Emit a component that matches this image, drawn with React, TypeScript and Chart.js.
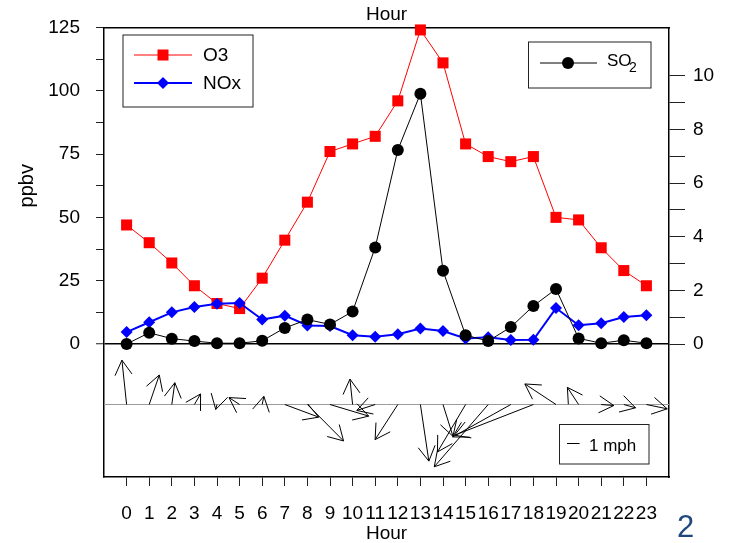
import React, { useEffect, useRef } from 'react';
import { Chart, registerables } from 'chart.js';

Chart.register(...registerables);

const FONT = "'Liberation Sans', Arial, Helvetica, sans-serif";

// ---- data ----
const HOURS = [0, 1, 2, 3, 4, 5, 6, 7, 8, 9, 10, 11, 12, 13, 14, 15, 16, 17, 18, 19, 20, 21, 22, 23];
const HOUR_LABELS = ['0', '1', '2', '3', '4', '5', '6', '7', '8', '9', '10', '11', '12', '13', '14', '15', '16', '17', '18', '19', '20', '21', '22', '23'];
const O3 = [47, 40, 32, 23, 16, 14, 26, 41, 56, 76, 79, 82, 96, 124, 111, 79, 74, 72, 74, 50, 49, 38, 29, 23];
const NOX = [4.7, 8.6, 12.5, 14.6, 15.9, 16.2, 9.7, 11.2, 7.3, 7.1, 3.5, 2.9, 3.9, 6.1, 5.1, 2.2, 2.7, 1.6, 1.7, 14.2, 7.4, 8.2, 10.7, 11.4];
const SO2 = [0, 0.42, 0.2, 0.11, 0.03, 0.03, 0.12, 0.6, 0.91, 0.73, 1.21, 3.6, 7.23, 9.33, 2.73, 0.33, 0.11, 0.63, 1.42, 2.05, 0.21, 0.03, 0.14, 0.03];
// wind components (mph): east (u) and north (v)
const WIND_U = [-0.37, 0.8, 0.24, 0.49, -0.1, -0.84, 0.13, 2.69, 2.87, 3.07, -0.21, -1.46, -1.8, 0.67, 0.79, -2.23, -4.28, -4.61, -6.26, -2.47, -0.89, 1.0, 0.93, 1.65];
const WIND_V = [3.52, 2.34, 1.73, 0.84, -0.39, 0.55, 0.65, -1.0, -2.89, -0.92, 2.02, -0.47, -2.78, -4.49, -2.52, -3.76, -4.94, -2.57, -2.44, 1.63, 1.36, -0.08, -0.26, -0.34];

const LEFT_TICKS = [0, 12.5, 25, 37.5, 50, 62.5, 75, 87.5, 100, 112.5, 125];
const LEFT_LABELS = ['0', '', '25', '', '50', '', '75', '', '100', '', '125'];
const RIGHT_TICKS = [0, 1, 2, 3, 4, 5, 6, 7, 8, 9, 10];
const RIGHT_LABELS = ['0', '', '2', '', '4', '', '6', '', '8', '', '10'];

const annotatePlugin = {
  id: 'annotate',
  beforeDatasetsDraw(chart: any) {
    const { ctx, chartArea, scales } = chart;
    const y0 = scales.yw.getPixelForValue(0);
    ctx.save();
    ctx.strokeStyle = '#9a9a9a';
    ctx.lineWidth = 1;
    ctx.beginPath();
    ctx.moveTo(chartArea.left, y0);
    ctx.lineTo(chartArea.right, y0);
    ctx.stroke();
    ctx.restore();
  },
  afterDatasetsDraw(chart: any) {
    const { ctx, scales } = chart;
    const xs = scales.x;
    const yw = scales.yw;
    const y0 = yw.getPixelForValue(0);
    const k = Math.abs(yw.getPixelForValue(1) - yw.getPixelForValue(0));
    const head = 17;
    const ang = Math.PI / 6;
    ctx.save();
    ctx.strokeStyle = '#000';
    ctx.lineWidth = 1;
    HOURS.forEach((h, i) => {
      const x0 = xs.getPixelForValue(h);
      const x1 = x0 + WIND_U[i] * k;
      const y1 = y0 - WIND_V[i] * k;
      const a = Math.atan2(y1 - y0, x1 - x0);
      ctx.beginPath();
      ctx.moveTo(x0, y0);
      ctx.lineTo(x1, y1);
      ctx.moveTo(x1 + head * Math.cos(a + Math.PI - ang), y1 + head * Math.sin(a + Math.PI - ang));
      ctx.lineTo(x1, y1);
      ctx.lineTo(x1 + head * Math.cos(a + Math.PI + ang), y1 + head * Math.sin(a + Math.PI + ang));
      ctx.stroke();
    });
    ctx.restore();
  },
  afterDraw(chart: any) {
    const { ctx, scales } = chart;
    ctx.save();
    // y title
    const yMid = (scales.y.getPixelForValue(0) + scales.y.getPixelForValue(125)) / 2;
    ctx.fillStyle = '#000';
    ctx.font = `20px ${FONT}`;
    ctx.translate(27, yMid);
    ctx.rotate(-Math.PI / 2);
    ctx.textAlign = 'center';
    ctx.textBaseline = 'middle';
    ctx.fillText('ppbv', 0, 0);
    ctx.restore();

    ctx.save();
    ctx.lineWidth = 1;
    ctx.strokeStyle = '#222';
    // legend 1
    ctx.strokeRect(123, 35, 130, 72);
    ctx.strokeStyle = '#ff0000';
    ctx.beginPath(); ctx.moveTo(134, 55); ctx.lineTo(192, 55); ctx.stroke();
    ctx.fillStyle = '#ff0000';
    ctx.fillRect(163 - 5.5, 55 - 5.5, 11, 11);
    ctx.strokeStyle = '#0000ff';
    ctx.lineWidth = 2;
    ctx.beginPath(); ctx.moveTo(134, 83); ctx.lineTo(192, 83); ctx.stroke();
    ctx.fillStyle = '#0000ff';
    ctx.beginPath();
    ctx.moveTo(163, 83 - 6); ctx.lineTo(169, 83); ctx.lineTo(163, 83 + 6); ctx.lineTo(157, 83); ctx.closePath(); ctx.fill();
    ctx.fillStyle = '#000';
    ctx.font = `19px ${FONT}`;
    ctx.textAlign = 'left';
    ctx.textBaseline = 'middle';
    ctx.fillText('O3', 203, 56);
    ctx.fillText('NOx', 203, 84);

    // legend 2
    ctx.lineWidth = 1;
    ctx.strokeStyle = '#222';
    ctx.strokeRect(528.5, 42, 122.5, 46);
    ctx.strokeStyle = '#000';
    ctx.beginPath(); ctx.moveTo(540, 63); ctx.lineTo(597, 63); ctx.stroke();
    ctx.beginPath(); ctx.arc(568, 63, 6, 0, Math.PI * 2); ctx.fill();
    ctx.textBaseline = 'alphabetic';
    ctx.font = `17px ${FONT}`;
    ctx.fillText('SO', 607, 66);
    ctx.font = `14px ${FONT}`;
    ctx.fillText('2', 629, 72);

    // legend 3 (1 mph)
    const yw = scales.yw;
    const k = Math.abs(yw.getPixelForValue(1) - yw.getPixelForValue(0));
    ctx.strokeStyle = '#222';
    ctx.strokeRect(559.5, 424.5, 89.5, 39.5);
    ctx.strokeStyle = '#000';
    ctx.beginPath(); ctx.moveTo(567, 443.5); ctx.lineTo(567 + k, 443.5); ctx.stroke();
    ctx.font = `17px ${FONT}`;
    ctx.fillText('1 mph', 589, 450.5);

    // slide number
    ctx.fillStyle = '#1F497D';
    ctx.font = `31px ${FONT}`;
    ctx.fillText('2', 677, 537);
    ctx.restore();
  },
};

export default function App() {
  const ref = useRef<HTMLCanvasElement | null>(null);
  useEffect(() => {
    if (!ref.current) return;
    Chart.defaults.font.family = FONT;
    Chart.defaults.color = '#000';
    const pts = (arr: number[]) => HOURS.map((h, i) => ({ x: h, y: arr[i] }));
    const chart = new Chart(ref.current, {
      type: 'line',
      data: {
        datasets: [
          {
            label: 'SO2', data: pts(SO2), xAxisID: 'x', yAxisID: 'y2',
            borderColor: '#000', backgroundColor: '#000', borderWidth: 1,
            pointStyle: 'circle', pointRadius: 6, pointBorderWidth: 0, order: 0, clip: false,
          } as any,
          {
            label: 'NOx', data: pts(NOX), xAxisID: 'x', yAxisID: 'y',
            borderColor: '#0000ff', backgroundColor: '#0000ff', borderWidth: 2,
            pointStyle: 'rectRot', pointRadius: 6, pointBorderWidth: 0, order: 1, clip: false,
          } as any,
          {
            label: 'O3', data: pts(O3), xAxisID: 'x', yAxisID: 'y',
            borderColor: '#ff0000', backgroundColor: '#ff0000', borderWidth: 1,
            pointStyle: 'rect', pointRadius: 7.8, pointBorderWidth: 0, order: 2, clip: false,
          } as any,
        ],
      },
      options: {
        responsive: false,
        maintainAspectRatio: false,
        animation: false,
        layout: { padding: 0 },
        plugins: { legend: { display: false }, tooltip: { enabled: false } },
        scales: {
          x: {
            type: 'linear', position: 'bottom', min: -1, max: 24,
            afterBuildTicks: (s: any) => { s.ticks = HOURS.map((h) => ({ value: h })); },
            afterFit: (s: any) => { s.height = 66; },
            ticks: {
              autoSkip: false, maxRotation: 0, minRotation: 0, padding: 16, color: '#000',
              font: { size: 19, family: FONT },
              callback: (v: any) => { const i = HOURS.indexOf(Number(v)); return i >= 0 ? HOUR_LABELS[i] : ''; },
            },
            grid: { drawOnChartArea: false, tickLength: 9, color: '#222', tickColor: '#222' },
            border: { display: true, color: '#000', width: 1.5 },
            title: { display: true, text: 'Hour', color: '#000', font: { size: 19, family: FONT }, padding: { top: 0, bottom: -2 } },
          },
          xTop: {
            type: 'linear', position: 'top', min: -1, max: 24,
            afterFit: (s: any) => { s.height = 24; },
            ticks: { display: false },
            grid: { display: true, drawOnChartArea: false, drawTicks: false },
            border: { display: true, color: '#000', width: 1.5 },
            title: { display: true, text: 'Hour', color: '#000', font: { size: 19, family: FONT }, padding: { top: 0, bottom: 0 } },
          },
          y: {
            type: 'linear', position: 'left', min: -52.5, max: 125,
            afterBuildTicks: (s: any) => { s.ticks = LEFT_TICKS.map((v) => ({ value: v })); },
            afterFit: (s: any) => { s.width = 104; },
            ticks: {
              padding: 16, color: '#000', font: { size: 19, family: FONT },
              callback: (v: any) => { const i = LEFT_TICKS.indexOf(Number(v)); return i >= 0 ? LEFT_LABELS[i] : ''; },
            },
            grid: {
              drawOnChartArea: true, tickLength: 8,
              color: (c: any) => (c.tick && c.tick.value === 0 ? '#000' : 'rgba(0,0,0,0)'),
              lineWidth: (c: any) => (c.tick && c.tick.value === 0 ? 1.5 : 1),
              tickColor: '#222', tickWidth: 1,
            },
            border: { display: true, color: '#000', width: 1.5 },
          },
          y2: {
            type: 'linear', position: 'right', min: -4.956, max: 11.8,
            afterBuildTicks: (s: any) => { s.ticks = RIGHT_TICKS.map((v) => ({ value: v })); },
            afterFit: (s: any) => { s.width = 60; },
            ticks: {
              padding: 8, color: '#000', font: { size: 19, family: FONT },
              callback: (v: any) => { const i = RIGHT_TICKS.indexOf(Number(v)); return i >= 0 ? RIGHT_LABELS[i] : ''; },
            },
            grid: { drawOnChartArea: false, tickLength: 16, color: '#222', tickColor: '#222', tickWidth: 1 },
            border: { display: true, color: '#000', width: 1.5 },
          },
          yw: { type: 'linear', display: false, min: -5.75, max: 29.92 },
        },
      } as any,
      plugins: [annotatePlugin],
    });
    return () => chart.destroy();
  }, []);

  return (
    <div style={{ position: 'fixed', left: 0, top: 0, width: 729, height: 543, background: '#fff' }}>
      <canvas ref={ref} width={729} height={543} style={{ width: 729, height: 543, display: 'block' }} />
    </div>
  );
}
